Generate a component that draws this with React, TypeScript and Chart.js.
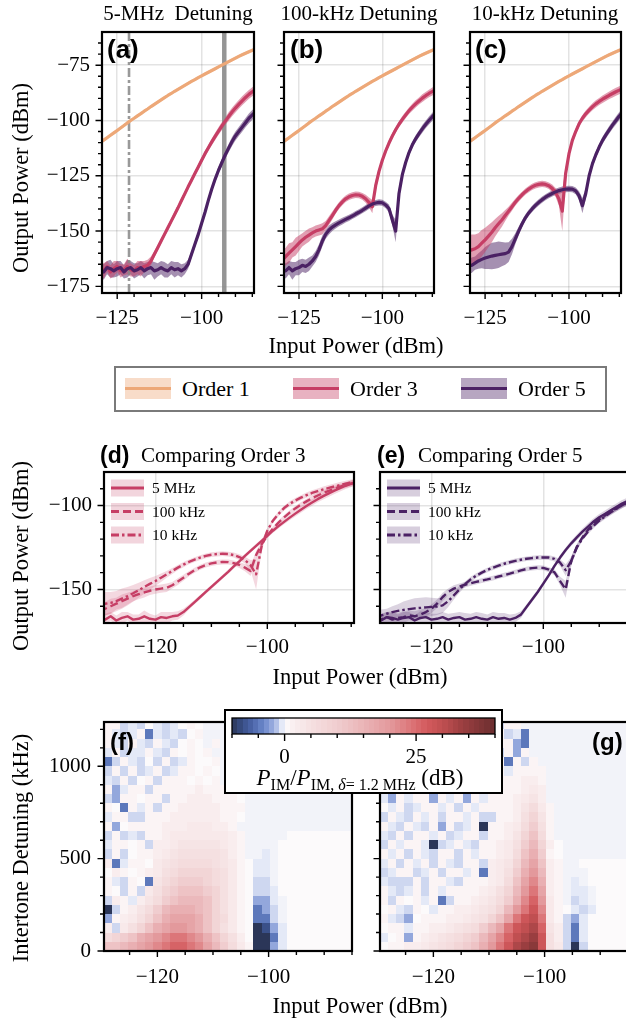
import React, { useEffect, useRef } from "react";
import { Chart, registerables } from "chart.js";

Chart.register(...registerables);

const SERIF = '"Liberation Serif", "Times New Roman", Times, serif';
const SANS = '"Liberation Sans", Arial, Helvetica, sans-serif';

// ================= DATA =================
// Input power grid (dBm) shared by all line curves
const inputPower = [-130, -129, -128, -127, -126, -125, -124, -123, -122, -121, -120, -119, -118, -117, -116, -115, -114, -113, -112, -111, -110, -109, -108, -107, -106, -105, -104, -103, -102, -101, -100, -99, -98, -97, -96, -95, -94, -93, -92, -91, -90, -89, -88, -87, -86, -85, -84];

// Order 1 output (dBm), identical for all detunings
const order1Out = [-110.0, -108.9, -107.8, -106.7, -105.6, -104.5, -103.4, -102.3, -101.1, -100.0, -99.0, -97.9, -96.9, -95.8, -94.8, -93.7, -92.7, -91.7, -90.7, -89.7, -88.7, -87.8, -86.8, -85.9, -85.0, -84.1, -83.2, -82.3, -81.5, -80.6, -79.8, -79.0, -78.2, -77.4, -76.6, -75.8, -75.0, -74.2, -73.4, -72.6, -71.8, -71.0, -70.3, -69.6, -68.9, -68.3, -67.7];
const order1Spread = [0.8, 0.7, 0.8, 0.7, 0.7, 0.8, 0.7, 0.7, 0.7, 0.7, 0.7, 0.7, 0.7, 0.7, 0.7, 0.7, 0.7, 0.7, 0.7, 0.7, 0.7, 0.7, 0.7, 0.7, 0.7, 0.7, 0.7, 0.7, 0.7, 0.7, 0.7, 0.7, 0.7, 0.7, 0.7, 0.7, 0.7, 0.7, 0.7, 0.7, 0.7, 0.7, 0.7, 0.7, 0.7, 0.7, 0.7];

// 5-MHz detuning
const order3At5MHz = [-166.5, -168, -166, -168.5, -167, -166, -168, -167.5, -166, -167.5, -168, -166.5, -167, -166, -165.5, -163.5, -160.5, -157.5, -154.5, -151.5, -148.5, -145.5, -142.5, -139.5, -136.3, -133.2, -130, -127, -124, -121, -118, -115, -112.3, -109.7, -107.2, -104.8, -102.5, -100.3, -98.2, -96.2, -94.4, -92.7, -91.1, -89.6, -88.2, -87, -85.9];
const order3At5MHzSpread = [3, 3.5, 2.5, 3, 3.5, 2.5, 3, 2.5, 3.5, 3, 2.5, 3, 3.5, 2.5, 2.5, 2, 1.5, 1.3, 1.2, 1.2, 1.2, 1.2, 1.2, 1.2, 1.2, 1.2, 1.2, 1.2, 1.2, 1.2, 1.3, 1.3, 1.4, 1.5, 1.6, 1.7, 1.8, 1.8, 1.9, 1.9, 2, 2, 2, 2, 2, 2, 2];
const order5At5MHz = [-167.5, -168.5, -166.5, -167, -168, -167, -166.5, -168.5, -167, -166.5, -168, -167.5, -166.5, -168, -167, -166.5, -168, -167.5, -166.5, -167.5, -168, -166.5, -167.5, -167, -168, -167, -165, -160.5, -156, -151.5, -146.5, -141.5, -136, -131, -126.5, -122.5, -119, -115.5, -112.5, -109.5, -107, -105, -103, -101, -99, -97.5, -96];
const order5At5MHzSpread = [3, 3.5, 3, 4, 3, 3.5, 3, 3, 4, 3, 3.5, 3, 3, 3.5, 3, 3, 4, 3, 3, 3.5, 3, 3, 3.5, 3, 3, 2.5, 2, 1.5, 1.5, 1.5, 1.5, 1.5, 1.5, 1.5, 1.5, 1.6, 1.7, 1.8, 1.9, 2, 2, 2, 2.1, 2.1, 2.2, 2.2, 2.2];

// 100-kHz detuning
const order3At100kHz = [-163, -161.5, -160, -158.5, -157, -155.5, -154, -152.8, -151.8, -150.8, -150, -149.5, -149, -147.5, -145.3, -143, -140.6, -138.5, -136.8, -135.4, -134.5, -133.9, -133.6, -133.7, -134.3, -135.4, -137, -139, -129.5, -123, -118, -113.8, -110.2, -107, -104.2, -101.7, -99.5, -97.5, -95.6, -94, -92.5, -91.2, -89.9, -88.8, -87.8, -86.9, -86];
const order3At100kHzSpread = [4.5, 4, 4.5, 3.5, 4, 3.5, 3, 3, 3, 2.5, 2.5, 2.5, 2.5, 2, 2, 1.8, 1.6, 1.5, 1.5, 1.5, 1.5, 1.5, 1.5, 1.5, 1.5, 1.8, 2.2, 3, 2.5, 1.5, 1.3, 1.3, 1.3, 1.3, 1.4, 1.4, 1.5, 1.5, 1.5, 1.6, 1.6, 1.6, 1.7, 1.7, 1.7, 1.8, 1.8];
const order5At100kHz = [-167.5, -168, -166.5, -168, -167, -166.5, -165.5, -166, -165, -163.5, -161.5, -158.5, -154.5, -151.5, -149.5, -148.2, -147.2, -146.3, -145.5, -144.7, -144, -143.2, -142.3, -141.5, -140.6, -139.6, -138.6, -137.8, -137.3, -137, -137.2, -138.2, -139.8, -145, -150, -133, -124.5, -119, -114.5, -111, -108.3, -106, -103.8, -101.8, -100, -98.3, -96.8];
const order5At100kHzSpread = [3, 3.5, 3, 4, 3, 3.5, 3, 3, 3, 2.5, 2.5, 2.5, 2.5, 2, 2, 1.8, 1.6, 1.5, 1.5, 1.4, 1.4, 1.4, 1.4, 1.4, 1.4, 1.4, 1.4, 1.4, 1.4, 1.4, 1.4, 1.5, 1.8, 2.5, 5, 3, 1.8, 1.5, 1.5, 1.5, 1.6, 1.6, 1.7, 1.7, 1.8, 1.8, 1.8];

// 10-kHz detuning
const order3At10kHz = [-159, -158.5, -158, -157, -155.5, -154, -152.3, -150.5, -148.5, -146.7, -145, -143, -141, -139, -137, -135.2, -133.6, -132.2, -131, -130, -129.3, -128.9, -128.7, -128.9, -129.5, -130.7, -132.5, -135.5, -141, -124, -115, -109, -105, -101.5, -99, -97, -95.3, -93.8, -92.5, -91.4, -90.4, -89.5, -88.6, -87.8, -87, -86.3, -85.6];
const order3At10kHzSpread = [7, 7, 6.5, 6, 6, 5.5, 5, 4.5, 4, 3.5, 3, 2.5, 2, 1.8, 1.6, 1.5, 1.4, 1.4, 1.4, 1.4, 1.4, 1.4, 1.4, 1.4, 1.5, 1.7, 2, 3, 9, 3, 1.5, 1.4, 1.4, 1.4, 1.5, 1.5, 1.5, 1.6, 1.6, 1.6, 1.7, 1.7, 1.7, 1.8, 1.8, 1.8, 1.8];
const order5At10kHz = [-166, -165.5, -164.5, -163.5, -162.8, -162.2, -161.7, -161.3, -161, -160.7, -160.4, -160.2, -159.5, -157, -153.5, -150, -146.8, -144, -141.8, -140, -138.4, -137, -135.8, -134.7, -133.8, -133, -132.3, -131.7, -131.3, -131, -130.9, -131, -131.8, -134, -138.5, -133, -125, -119.5, -115.5, -112, -109, -106.5, -104.2, -102, -100, -98, -96.3];
const order5At10kHzSpread = [3, 3.5, 3, 3.5, 4, 5, 5.5, 6, 6, 6, 5.5, 5, 4.5, 3.5, 2.5, 2, 1.6, 1.5, 1.4, 1.4, 1.4, 1.4, 1.4, 1.4, 1.4, 1.4, 1.4, 1.4, 1.4, 1.4, 1.4, 1.4, 1.5, 2, 3.5, 2.5, 1.6, 1.5, 1.5, 1.5, 1.6, 1.6, 1.7, 1.7, 1.8, 1.8, 1.8];

// vertical reference lines in panel (a) (dBm)
const refDashDot = -121.5;
const refSolid = -93.3;

// Heat maps: cell centres
const heatInputPower = [-129, -127.5, -126, -124.5, -123, -121.5, -120, -118.5, -117, -115.5, -114, -112.5, -111, -109.5, -108, -106.5, -105, -103.5, -102, -100.5, -99, -97.5, -96, -94.5, -93, -91.5, -90, -88.5, -87, -85.5];
const heatDetuning = [25, 75, 125, 175, 225, 275, 325, 375, 425, 475, 525, 575, 625, 675, 725, 775, 825, 875, 925, 975, 1025, 1075, 1125, 1175, 1225];
// cell level code -> dB  (rows listed from top = highest detuning, to bottom)
const heatLevels: Record<string, number> = {
  A: -10, B: -8, C: -5, D: -2.5, E: -0.9, F: -0.5, G: -0.2, ".": 0,
  a: 1, b: 2, c: 3, d: 4, e: 5, f: 6, g: 8, h: 10, i: 12, j: 14, k: 16, l: 18,
  m: 20, n: 22, o: 24, p: 26, q: 28, r: 30, s: 32, t: 34, u: 36, v: 38, w: 40,
};
const heatOrder3 = [
  "aaEFE.FEF.a.GGGGGGGGGGGGGGGGGG",
  "aFEFaCFEFE.aGGGGGGGGGGGGGGGGGG",
  "aFEaFEaFE.a.GaGGGGGGGGGGGGGGGG",
  "FaEFFaFEa.a.aGGGGGGGGGGGGGGGGG",
  "CEaFE.EaEFa..aGGGGGGGGGGGGGGGG",
  "EaEaEFaEFaa.a.GGGGGGGGGGGGGGGG",
  "FEaE.aEaaa.a.aGGGGGGGGGGGGGGGG",
  "aDFaaEaaaaabaaa.GGGGGGGGGGGGGG",
  "EDaa.aaEaabbbaaa.GGGGGGGGGGGGG",
  "a.CaFaEaabbbbbaaaGGGGGGGGGGGGG",
  "FaaEEaaabbbbbbaa.GGGGGGGGGGGGG",
  "aD.aaaabbbcccbbaGGGGGGGGGGGGGG",
  "EaEFEaabcccccccbaGGGGG........",
  "Faa.aEbbcdddddcbaGGGG.........",
  "EaE.aabcdeeeeedbaGGFG.........",
  "bCFaa.cdeffffedca.FFG.........",
  ".ba.abcefggggfeca.FFG.........",
  "aFEa.Cdfghhhgfeca.EEG.........",
  "a.EaEceghiiihgeca.EEF.........",
  "EbaFbdfhijjjigeca.DDFG........",
  "AEabdfhjkkkjigeca.CDEG........",
  "Dabcegiklllkigfca.CCEG........",
  "bEcegiklmmlkigeca.ABDF........",
  "fghiklmnoonmkigeb.AACF........",
  "iijklmnopponljhfcaAADF........",
];
const heatOrder5 = [
  "aEaFaEaFaaEaFaEaaGGGGGGGGGGGGG",
  "FaEaFaaEaFaEaFaEFCGGGGGGGGGGGG",
  "aFaEaFaEaFaaFaaaDCGGGGGGGGGGGG",
  "EaFaEaFaaEaFaaEaDaGGGGGGGGGGGG",
  "aEaFaaEaFaEaaFaCaEaGGGGGGGGGGG",
  "FaEaaFaEaaFaEaaFaaaaGGGGGGGGGG",
  "aEaFaaEaFaaEaFaaabbaGGGGGGGGGG",
  "aFaaFaaFaaaFaaaaabcbGGGGGGGGGG",
  "FDaFaaDaFaDaFaaabcdbGGGGGGGGGG",
  ".FaEFaaFaEaFaaaabdfcaGGGGGGGGG",
  "EaFEaFaEaaFaEEaabegdaGGGGGGGGG",
  "aFEaFEaDaEFaAaabcfheaGGGGGGGGG",
  "FEaEaaFaEFaaEaabdgifaGGGGGGGGG",
  "EaFaaFAEFaFEaabcehjgb.GGGGGGGG",
  "aFaEaFEaaEaFaabcfikha.GGGGGGGG",
  "FaEaFaEaFEaaEbcdgjlibaGG......",
  "EFaaEFaEaaFaCbcehkmjbaGGG.....",
  "FEEEaEaaFEaaabcfilnkbaGFG.....",
  "aFEFaEaFaaaabcegjmolbaGFFG....",
  "aEa.aFaCEaabcdfhknpmcaGEFG....",
  ".aFEa.Faabbcdegjmoqnca.FEF....",
  "aFED.aaabbcdegiloqrocaEDF.....",
  ".aaFaabbcdefhjloqrspdbECF.....",
  "F.aDabcdefghjlnprstqebECF.....",
  ".aabbcdefghikmoqstuqecEAE.....",
];
const colorbarMin = -10;
const colorbarMax = 40;

// ================= STYLE =================
const COLOR1 = "#eda878";
const COLOR3 = "#c63e65";
const COLOR5 = "#4b2164";
const GRID = "rgba(0,0,0,0.11)";
const MT = 8;
const MR = 8;

function rgba(hex: string, a: number) {
  const n = parseInt(hex.slice(1), 16);
  return `rgba(${(n >> 16) & 255},${(n >> 8) & 255},${n & 255},${a})`;
}
const fmt = (v: number) => (v < 0 ? "\u2212" + Math.abs(v) : String(v));

const cmapStops: number[][] = [
  [-10, 43, 54, 88], [-8, 58, 80, 137], [-6, 77, 103, 171], [-4, 108, 136, 203],
  [-2, 160, 177, 225], [-1, 200, 210, 238], [-0.5, 228, 233, 247], [0, 252, 250, 251],
  [2, 249, 237, 238], [5, 245, 224, 225], [10, 240, 205, 207], [15, 234, 180, 183],
  [20, 227, 153, 156], [24, 220, 118, 121], [27, 211, 90, 93], [30, 192, 79, 81],
  [34, 154, 62, 64], [40, 106, 46, 47],
];
function cmap(v: number) {
  const s = cmapStops;
  if (v <= s[0][0]) return `rgb(${s[0][1]},${s[0][2]},${s[0][3]})`;
  for (let i = 1; i < s.length; i++) {
    if (v <= s[i][0]) {
      const t = (v - s[i - 1][0]) / (s[i][0] - s[i - 1][0]);
      const c = [1, 2, 3].map((k) => Math.round(s[i - 1][k] + t * (s[i][k] - s[i - 1][k])));
      return `rgb(${c[0]},${c[1]},${c[2]})`;
    }
  }
  const l = s[s.length - 1];
  return `rgb(${l[1]},${l[2]},${l[3]})`;
}

// ================= PLUGINS =================
const decorPlugin = {
  id: "decor",
  afterDraw(chart: any, _a: any, o: any) {
    if (!o) return;
    const { ctx, chartArea: a, scales } = chart;
    const x = scales.x;
    const y = scales.y;
    ctx.save();
    ctx.strokeStyle = "#000";
    ctx.lineWidth = 1.4;
    ctx.beginPath();
    const xt = (vals: number[], len: number) =>
      (vals || []).forEach((v) => {
        const p = x.getPixelForValue(v);
        if (p < a.left - 0.5 || p > a.right + 0.5) return;
        ctx.moveTo(p, a.bottom);
        ctx.lineTo(p, a.bottom + len);
      });
    const yt = (vals: number[], len: number) =>
      (vals || []).forEach((v) => {
        const p = y.getPixelForValue(v);
        if (p < a.top - 0.5 || p > a.bottom + 0.5) return;
        ctx.moveTo(a.left, p);
        ctx.lineTo(a.left - len, p);
      });
    xt(o.xMinor, o.minorLen ?? 4);
    xt(o.xMajor, o.majorLen ?? 6);
    if (y && o.yMajor) {
      yt(o.yMinor, o.minorLen ?? 4);
      yt(o.yMajor, o.majorLen ?? 6.5);
    }
    ctx.stroke();
    ctx.lineWidth = o.frame ?? 2.2;
    ctx.strokeRect(a.left, a.top, a.right - a.left, a.bottom - a.top);
    ctx.restore();
  },
};

const heatmapPlugin = {
  id: "heatmap",
  beforeDatasetsDraw(chart: any, _a: any, o: any) {
    if (!o || !o.rows) return;
    const { ctx, chartArea: a, scales } = chart;
    const x = scales.x;
    const y = scales.y;
    ctx.save();
    ctx.beginPath();
    ctx.rect(a.left, a.top, a.right - a.left, a.bottom - a.top);
    ctx.clip();
    const xs: number[] = o.xs;
    const ys: number[] = o.ys;
    const hx = (xs[1] - xs[0]) / 2;
    const hy = (ys[1] - ys[0]) / 2;
    const n = o.rows.length;
    o.rows.forEach((row: string, j: number) => {
      const yc = ys[n - 1 - j];
      const y0 = Math.round(y.getPixelForValue(yc - hy));
      const y1 = Math.round(y.getPixelForValue(yc + hy));
      for (let i = 0; i < row.length && i < xs.length; i++) {
        const x0 = Math.round(x.getPixelForValue(xs[i] - hx));
        const x1 = Math.round(x.getPixelForValue(xs[i] + hx));
        ctx.fillStyle = cmap(heatLevels[row[i]] ?? 0);
        ctx.fillRect(x0, y1, x1 - x0, y0 - y1);
      }
    });
    ctx.restore();
  },
};

const colorbarPlugin = {
  id: "colorbar",
  beforeDatasetsDraw(chart: any, _a: any, o: any) {
    if (!o || !o.on) return;
    const { ctx, chartArea: a, scales } = chart;
    const x = scales.x;
    for (let v = o.min; v < o.max; v += 1) {
      const x0 = Math.round(x.getPixelForValue(v));
      const x1 = Math.round(x.getPixelForValue(v + 1));
      ctx.fillStyle = cmap(v + 0.5);
      ctx.fillRect(x0, a.top, x1 - x0, a.bottom - a.top);
    }
  },
};

// In-panel legend for (d)/(e), drawn on the chart canvas after the datasets
const panelLegendPlugin = {
  id: "panelLegend",
  afterDraw(chart: any, _a: any, o: any) {
    if (!o || !o.items) return;
    const { ctx, chartArea: a } = chart;
    ctx.save();
    o.items.forEach((it: any, i: number) => {
      const cy = a.top + 16 + i * 23.5;
      const x0 = a.left + 7;
      ctx.fillStyle = rgba(o.color, 0.22);
      ctx.fillRect(x0, cy - 8.5, 33, 17);
      ctx.strokeStyle = o.color;
      ctx.lineWidth = 3;
      ctx.setLineDash(it.dash);
      ctx.beginPath();
      ctx.moveTo(x0, cy);
      ctx.lineTo(x0 + 33, cy);
      ctx.stroke();
      ctx.setLineDash([]);
      ctx.fillStyle = "#000";
      ctx.font = `15.5px ${SERIF}`;
      ctx.textBaseline = "middle";
      ctx.textAlign = "left";
      ctx.fillText(it.label, x0 + 41, cy + 1);
    });
    ctx.restore();
  },
};

// ================= CONFIG BUILDERS =================
type Area = { l: number; t: number; r: number; b: number };
type AxisSpec = {
  xRange: number[]; xMajor: number[]; xMinor: number[];
  yRange?: number[]; yMajor?: number[]; yMinor?: number[];
  showY?: boolean; ml: number; mb: number; z?: number; grid?: boolean; frame?: number;
  xPad?: number; yPad?: number; majorLen?: number; minorLen?: number;
};

function zeroPad(s: any) {
  s.paddingTop = 0;
  s.paddingBottom = 0;
  s.paddingLeft = 0;
  s.paddingRight = 0;
}

function makeOptions(p: AxisSpec, extraPlugins: any = {}) {
  const tickFont = { family: SERIF, size: 21 };
  const scales: any = {
    x: {
      type: "linear", min: p.xRange[0], max: p.xRange[1], z: p.z ?? 0,
      afterBuildTicks: (s: any) => { s.ticks = p.xMajor.map((v) => ({ value: v })); },
      afterFit: (s: any) => { s.height = p.mb; zeroPad(s); },
      ticks: { callback: (v: any) => fmt(Number(v)), padding: p.xPad ?? 13, font: tickFont, color: "#000", maxRotation: 0, minRotation: 0, autoSkip: false },
      grid: { display: p.grid !== false, drawTicks: false, color: GRID, lineWidth: 1.5 },
      border: { display: false },
    },
  };
  if (p.yRange) {
    scales.y = {
      type: "linear", min: p.yRange[0], max: p.yRange[1], z: p.z ?? 0,
      afterBuildTicks: (s: any) => { s.ticks = (p.yMajor || []).map((v) => ({ value: v })); },
      afterFit: (s: any) => { s.width = p.ml; zeroPad(s); },
      ticks: { callback: (v: any) => (p.showY ? fmt(Number(v)) : ""), padding: p.yPad ?? 12, font: tickFont, color: "#000", autoSkip: false },
      grid: { display: p.grid !== false, drawTicks: false, color: GRID, lineWidth: 1.5 },
      border: { display: false },
    };
  } else {
    scales.y = { display: false, min: 0, max: 1 };
  }
  return {
    animation: false,
    responsive: false,
    maintainAspectRatio: false,
    devicePixelRatio: 1,
    events: [],
    layout: { padding: { top: MT, right: MR, left: p.yRange ? 0 : p.ml, bottom: 0 } },
    plugins: {
      legend: { display: false },
      tooltip: { enabled: false },
      filler: { drawTime: "beforeDatasetsDraw" },
      decor: { xMajor: p.xMajor, xMinor: p.xMinor, yMajor: p.yMajor, yMinor: p.yMinor, frame: p.frame, majorLen: p.majorLen, minorLen: p.minorLen },
      ...extraPlugins,
    },
    scales,
  };
}

function pts(ys: number[]) {
  return inputPower.map((x, i) => ({ x, y: ys[i] }));
}
function bandSets(mean: number[], spread: number[], color: string, alpha: number) {
  return [
    { data: inputPower.map((x, i) => ({ x, y: mean[i] + spread[i] })), borderWidth: 0, pointRadius: 0, fill: false, order: 9, clip: 0 },
    { data: inputPower.map((x, i) => ({ x, y: mean[i] - spread[i] })), borderWidth: 0, pointRadius: 0, fill: "-1", backgroundColor: rgba(color, alpha), order: 9, clip: 0 },
  ];
}
function lineSet(mean: number[], color: string, width: number, dash: number[], order: number) {
  return { data: pts(mean), borderColor: color, borderWidth: width, borderDash: dash, pointRadius: 0, fill: false, tension: 0, order, clip: 0, borderJoinStyle: "round" };
}

// axis specs
const TOP_X = { xRange: [-129.5, -84.5], xMajor: [-125, -100], xMinor: [-125, -120, -115, -110, -105, -100, -95, -90, -85] };
const TOP_Y = { yRange: [-178, -60], yMajor: [-175, -150, -125, -100, -75], yMinor: [-175, -170, -165, -160, -155, -150, -145, -140, -135, -130, -125, -120, -115, -110, -105, -100, -95, -90, -85, -80, -75, -70, -65] };
const MID_X = { xRange: [-129.2, -84.5], xMajor: [-120, -100], xMinor: [-125, -120, -115, -110, -105, -100, -95, -90, -85] };
const MID_Y = { yRange: [-170, -80], yMajor: [-150, -100], yMinor: [-160, -150, -140, -130, -120, -110, -100, -90] };
const HEAT_X = { xRange: [-129.6, -85], xMajor: [-120, -100], xMinor: [-125, -120, -115, -110, -105, -100, -95, -90, -85] };
const HEAT_Y = { yRange: [0, 1240], yMajor: [0, 500, 1000], yMinor: [0, 100, 200, 300, 400, 500, 600, 700, 800, 900, 1000, 1100, 1200] };

const detuningLabels = ["5 MHz", "100 kHz", "10 kHz"];
const detuningDashes = [[], [8, 4], [8, 3, 2.5, 3]];

function topConfig(o3: number[], o3s: number[], o5: number[], o5s: number[], showY: boolean, withRefs: boolean, ml: number, mb: number) {
  const datasets: any[] = [
    ...bandSets(order1Out, order1Spread, COLOR1, 0.45),
    ...bandSets(o3, o3s, COLOR3, 0.5),
    ...bandSets(o5, o5s, COLOR5, 0.5),
    lineSet(order1Out, COLOR1, 3.2, [], 3),
    lineSet(o3, COLOR3, 3.2, [], 2),
    lineSet(o5, COLOR5, 3.2, [], 1),
  ];
  if (withRefs) {
    datasets.push({ data: [{ x: refDashDot, y: TOP_Y.yRange[0] }, { x: refDashDot, y: TOP_Y.yRange[1] }], borderColor: "rgba(135,135,135,0.85)", borderWidth: 2.6, borderDash: [9, 3, 3, 3], pointRadius: 0, fill: false, order: 5 });
    datasets.push({ data: [{ x: refSolid, y: TOP_Y.yRange[0] }, { x: refSolid, y: TOP_Y.yRange[1] }], borderColor: "rgba(130,130,130,0.85)", borderWidth: 4.5, pointRadius: 0, fill: false, order: 5 });
  }
  return {
    type: "line",
    data: { datasets },
    options: makeOptions({ ...TOP_X, ...TOP_Y, showY, ml, mb }),
    plugins: [decorPlugin],
  };
}

function midConfig(c5: number[], c5s: number[], c100: number[], c100s: number[], c10: number[], c10s: number[], color: string, showY: boolean, ml: number, mb: number) {
  const datasets: any[] = [
    ...bandSets(c5, c5s, color, 0.2),
    ...bandSets(c100, c100s, color, 0.2),
    ...bandSets(c10, c10s, color, 0.2),
    lineSet(c5, color, 2.4, detuningDashes[0], 1),
    lineSet(c100, color, 2.4, detuningDashes[1], 1),
    lineSet(c10, color, 2.4, detuningDashes[2], 1),
  ];
  const items = detuningLabels.map((label, i) => ({ label, dash: detuningDashes[i] }));
  return {
    type: "line",
    data: { datasets },
    options: makeOptions({ ...MID_X, ...MID_Y, showY, ml, mb, xPad: 12, yPad: 12 }, { panelLegend: { items, color } }),
    plugins: [decorPlugin, panelLegendPlugin],
  };
}

function heatConfig(rows: string[], showY: boolean, ml: number, mb: number) {
  return {
    type: "line",
    data: { datasets: [] },
    options: makeOptions({ ...HEAT_X, ...HEAT_Y, showY, ml, mb, z: 1, xPad: 14, yPad: 13 }, { heatmap: { rows, xs: heatInputPower, ys: heatDetuning } }),
    plugins: [heatmapPlugin, decorPlugin],
  };
}

function colorbarConfig(ml: number, mb: number) {
  const cbTicks = [-10, -5, 0, 5, 10, 15, 20, 25, 30, 35, 40];
  return {
    type: "line",
    data: { datasets: [] },
    options: makeOptions({ xRange: [colorbarMin, colorbarMax], xMajor: [0, 25], xMinor: cbTicks, ml, mb, grid: false, frame: 1.3, xPad: 11, majorLen: 7, minorLen: 4 }, { colorbar: { on: true, min: colorbarMin, max: colorbarMax } }),
    plugins: [colorbarPlugin, decorPlugin],
  };
}

// ================= COMPONENTS =================
function ChartCanvas({ area, ml, mb, build }: { area: Area; ml: number; mb: number; build: (ml: number, mb: number) => any }) {
  const ref = useRef<HTMLCanvasElement>(null);
  const w = Math.round(area.r - area.l + ml + MR);
  const h = Math.round(area.b - area.t + MT + mb);
  useEffect(() => {
    const chart = new Chart(ref.current as HTMLCanvasElement, build(ml, mb));
    return () => chart.destroy();
  }, []);
  return (
    <canvas
      ref={ref}
      width={w}
      height={h}
      style={{ position: "absolute", left: area.l - ml, top: area.t - MT, width: w, height: h }}
    />
  );
}

function Txt({ x, y, size = 21, children, anchor = "middle", rotate = false, family = SERIF, weight = 400, z = 5 }: any) {
  const tx = anchor === "start" ? "0" : anchor === "end" ? "-100%" : "-50%";
  return (
    <div
      style={{
        position: "absolute", left: x, top: y, zIndex: z,
        transform: `translate(${tx}, -50%)${rotate ? " rotate(-90deg)" : ""}`,
        fontFamily: family, fontSize: size, fontWeight: weight, lineHeight: 1, whiteSpace: "pre", color: "#000",
      }}
    >
      {children}
    </div>
  );
}

function Swatch({ x, y, w, h, color, alpha, lw }: any) {
  const top = Math.round(y - h / 2);
  return (
    <div style={{ position: "absolute", left: Math.round(x), top, width: w, height: h, zIndex: 6, background: rgba(color, alpha) }}>
      <div style={{ position: "absolute", left: 0, top: Math.round(h / 2 - lw / 2), width: w, height: Math.round(lw), background: color }} />
    </div>
  );
}

const A_AREA = { l: 102, t: 32, r: 254, b: 293 };
const B_AREA = { l: 284, t: 32, r: 434, b: 293 };
const C_AREA = { l: 470, t: 32, r: 621, b: 293 };
const D_AREA = { l: 104, t: 472, r: 354, b: 623 };
const E_AREA = { l: 380, t: 472, r: 630, b: 623 };
const F_AREA = { l: 104, t: 722, r: 352, b: 951 };
const G_AREA = { l: 380, t: 722, r: 628, b: 951 };
const CB_AREA = { l: 232, t: 718, r: 495, b: 734 };

export default function App() {
  return (
    <div style={{ position: "fixed", left: 0, top: 0, width: 626, height: 1024, overflow: "hidden", background: "#fff" }}>
      {/* Row 1 */}
      <ChartCanvas area={A_AREA} ml={70} mb={42} build={(ml, mb) => topConfig(order3At5MHz, order3At5MHzSpread, order5At5MHz, order5At5MHzSpread, true, true, ml, mb)} />
      <ChartCanvas area={B_AREA} ml={24} mb={42} build={(ml, mb) => topConfig(order3At100kHz, order3At100kHzSpread, order5At100kHz, order5At100kHzSpread, false, false, ml, mb)} />
      <ChartCanvas area={C_AREA} ml={24} mb={42} build={(ml, mb) => topConfig(order3At10kHz, order3At10kHzSpread, order5At10kHz, order5At10kHzSpread, false, false, ml, mb)} />

      <Txt x={178} y={13}>{"5-MHz  Detuning"}</Txt>
      <Txt x={359} y={13}>100-kHz Detuning</Txt>
      <Txt x={545} y={13}>10-kHz Detuning</Txt>
      <Txt x={107} y={49} size={26} family={SANS} weight={700} anchor="start">(a)</Txt>
      <Txt x={290} y={49} size={26} family={SANS} weight={700} anchor="start">(b)</Txt>
      <Txt x={475} y={49} size={26} family={SANS} weight={700} anchor="start">(c)</Txt>
      <Txt x={21} y={178} size={22.5} rotate>Output Power (dBm)</Txt>
      <Txt x={356} y={346} size={22.5}>Input Power (dBm)</Txt>

      {/* Legend */}
      <div style={{ position: "absolute", left: 114, top: 366, width: 489, height: 42, border: "2px solid #7a7a7a", background: "#fff", zIndex: 4 }} />
      {[["Order 1", COLOR1], ["Order 3", COLOR3], ["Order 5", COLOR5]].map(([label, color], i) => (
        <React.Fragment key={label}>
          <Swatch x={125 + 168 * i} y={388} w={46} h={21} color={color} alpha={0.4} lw={3.3} />
          <Txt x={182 + 168 * i} y={389} size={22} anchor="start">{label}</Txt>
        </React.Fragment>
      ))}

      {/* Row 2 */}
      <ChartCanvas area={D_AREA} ml={70} mb={42} build={(ml, mb) => midConfig(order3At5MHz, order3At5MHzSpread, order3At100kHz, order3At100kHzSpread, order3At10kHz, order3At10kHzSpread, COLOR3, true, ml, mb)} />
      <ChartCanvas area={E_AREA} ml={24} mb={42} build={(ml, mb) => midConfig(order5At5MHz, order5At5MHzSpread, order5At100kHz, order5At100kHzSpread, order5At10kHz, order5At10kHzSpread, COLOR5, false, ml, mb)} />
      <Txt x={100} y={455} size={23} family={SANS} weight={700} anchor="start">(d)</Txt>
      <Txt x={141} y={455} size={21} anchor="start">Comparing Order 3</Txt>
      <Txt x={377} y={455} size={23} family={SANS} weight={700} anchor="start">(e)</Txt>
      <Txt x={418} y={455} size={21} anchor="start">Comparing Order 5</Txt>
      <Txt x={21} y={556} size={22.5} rotate>Output Power (dBm)</Txt>
      <Txt x={360} y={677} size={22.5}>Input Power (dBm)</Txt>

      {/* Row 3 */}
      <ChartCanvas area={F_AREA} ml={70} mb={42} build={(ml, mb) => heatConfig(heatOrder3, true, ml, mb)} />
      <ChartCanvas area={G_AREA} ml={24} mb={42} build={(ml, mb) => heatConfig(heatOrder5, false, ml, mb)} />
      <Txt x={110} y={742} size={24} family={SANS} weight={700} anchor="start">(f)</Txt>
      <Txt x={592} y={742} size={24} family={SANS} weight={700} anchor="start">(g)</Txt>
      <Txt x={21} y={848} size={22.5} rotate>Intertone Detuning (kHz)</Txt>
      <Txt x={360} y={1006} size={22.5}>Input Power (dBm)</Txt>

      {/* Colorbar */}
      <div style={{ position: "absolute", left: 224, top: 709, width: 275, height: 81, border: "2px solid #000", background: "#fff", zIndex: 7 }} />
      <div style={{ position: "absolute", left: 0, top: 0, zIndex: 8 }}>
        <ChartCanvas area={CB_AREA} ml={8} mb={36} build={(ml, mb) => colorbarConfig(ml, mb)} />
      </div>
      <Txt x={360} y={777} size={23} z={9}>
        <i>P</i>
        <span style={{ fontSize: 16, position: "relative", top: "0.3em" }}>IM</span>
        /<i>P</i>
        <span style={{ fontSize: 16, position: "relative", top: "0.3em" }}>
          {"IM, "}<i>δ</i>{"= 1.2 MHz"}
        </span>
        {" (dB)"}
      </Txt>
    </div>
  );
}
